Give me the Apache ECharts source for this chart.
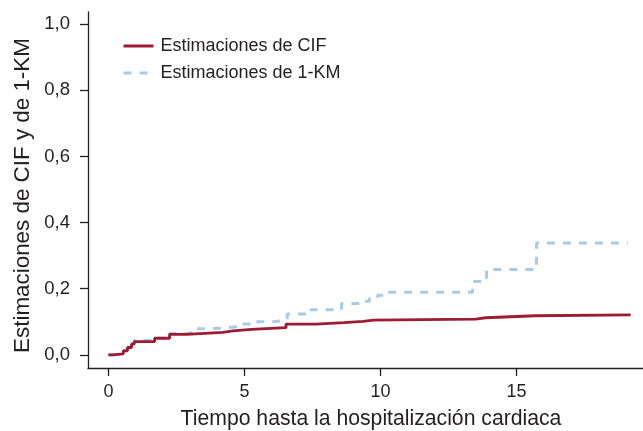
<!DOCTYPE html>
<html>
<head>
<meta charset="utf-8">
<script src="https://cdn.jsdelivr.net/npm/echarts@6/dist/echarts.min.js"></script>
<style>
  html, body { margin: 0; padding: 0; background: #fff; }
  #chart { width: 643px; height: 431px; }
</style>
</head>
<body>
<div id="chart"></div>
<script>
// estimaciones de CIF (curva roja, escalones)
var cifTime  = [0, 0.17, 0.55, 0.7, 0.85, 0.95, 1.7, 2.25, 2.87, 4.2, 4.58, 5.26, 6.53, 7.63, 8.66, 9.37, 9.74, 13.5, 13.87, 15.7, 19.2];
var cifValue = [0, 0.003, 0.012, 0.022, 0.032, 0.04, 0.05, 0.062, 0.068, 0.072, 0.077, 0.082, 0.093, 0.097, 0.101, 0.105, 0.108, 0.112, 0.118, 0.121, 0.121];

// estimaciones de 1-KM (curva azul discontinua)
var kmTime  = [0, 0.17, 0.55, 0.7, 0.85, 0.95, 1.6, 2.25, 2.87, 3.2, 3.73, 4.28, 4.83, 5.42, 6.0, 6.57, 7.45, 8.57, 9.3, 9.6, 9.9, 10.2, 13.39, 13.9, 15.74, 19.1];
var kmValue = [0, 0.004, 0.013, 0.024, 0.035, 0.043, 0.05, 0.064, 0.069, 0.079, 0.081, 0.086, 0.093, 0.1, 0.104, 0.123, 0.136, 0.155, 0.162, 0.17, 0.18, 0.189, 0.222, 0.258, 0.338, 0.338];

var xTicks = [0, 5, 10, 15];
var yTicks = [0, 0.2, 0.4, 0.6, 0.8, 1.0];

var seriesNames = ['Estimaciones de CIF', 'Estimaciones de 1-KM'];

var font = '"Liberation Sans", Arial, Helvetica, sans-serif';
var ink = '#231f20';

function pairs(xs, ys) {
    return xs.map(function (x, i) { return [x, ys[i]]; });
}

var chart = echarts.init(document.getElementById('chart'));

var option = {
    backgroundColor: '#fff',
    animation: false,
    textStyle: { fontFamily: font },
    // la region del grafico sigue mas alla del borde derecho (recortada)
    grid: { left: 88, width: 578, top: 12, bottom: 63, containLabel: false, outerBoundsMode: 'none' },
    legend: {
        orient: 'vertical',
        left: 122,
        top: 37,
        padding: 0,
        itemWidth: 30,
        itemHeight: 14,
        itemGap: 9,
        data: seriesNames,
        itemStyle: { opacity: 0, borderWidth: 0 },
        lineStyle: { width: 3 },
        textStyle: { fontFamily: font, fontSize: 18, color: ink, lineHeight: 18, padding: [0, 0, 0, 2] }
    },
    xAxis: {
        type: 'value',
        min: -0.75,
        max: 20.5,
        splitLine: { show: false },
        axisLine: { onZero: false, lineStyle: { color: ink, width: 1.3 } },
        axisTick: { customValues: xTicks, length: 8, lineStyle: { color: ink, width: 1.3 } },
        axisLabel: { customValues: xTicks, fontSize: 18, color: ink, margin: 15, fontFamily: font },
        name: 'Tiempo hasta la hospitalización cardiaca',
        nameLocation: 'middle',
        nameGap: 41,
        nameTextStyle: { fontSize: 21.2, color: ink, fontFamily: font, padding: [0, 12, 0, 0] }
    },
    yAxis: {
        type: 'value',
        min: -0.04,
        max: 1.037,
        splitLine: { show: false },
        axisLine: { show: true, onZero: false, lineStyle: { color: ink, width: 1.3 } },
        axisTick: { show: true, customValues: yTicks, length: 8, lineStyle: { color: ink, width: 1.3 } },
        axisLabel: {
            customValues: yTicks,
            fontSize: 18.5,
            color: ink,
            margin: 18,
            fontFamily: font,
            formatter: function (v) { return v.toFixed(1).replace('.', ','); }
        },
        name: 'Estimaciones de CIF y de 1-KM',
        nameLocation: 'middle',
        nameGap: 53,
        nameTextStyle: { fontSize: 22.4, color: ink, fontFamily: font, padding: [0, 11, 0, 0] }
    },
    series: [
        {
            name: seriesNames[1],
            type: 'line',
            step: 'end',
            symbol: 'none',
            data: pairs(kmTime, kmValue),
            itemStyle: { color: '#a9cbea' },
            lineStyle: { color: '#a9cbea', width: 3, type: [8, 8] },
            z: 2
        },
        {
            name: seriesNames[0],
            type: 'line',
            step: 'end',
            symbol: 'none',
            data: pairs(cifTime, cifValue),
            itemStyle: { color: '#9e1b32' },
            lineStyle: { color: '#9e1b32', width: 2.8 },
            z: 3
        }
    ]
};

chart.setOption(option);
</script>
</body>
</html>
